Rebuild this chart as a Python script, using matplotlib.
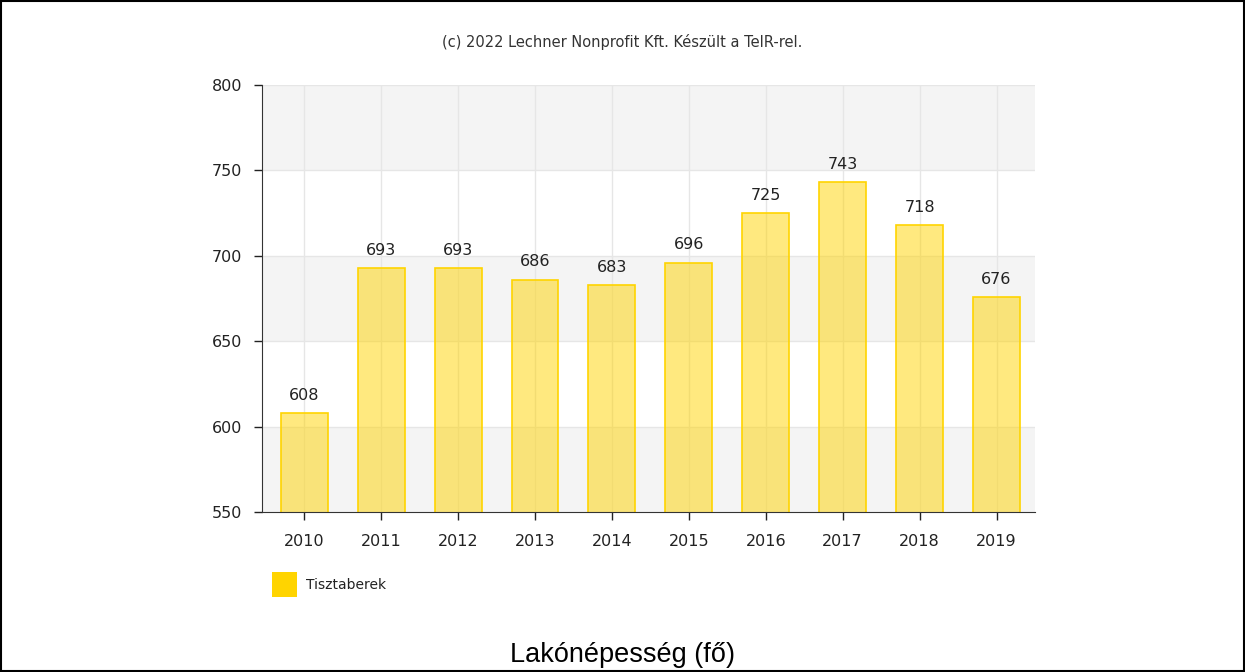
import numpy as np
import matplotlib.pyplot as plt
import matplotlib.patches as mpatches

evek = ['2010', '2011', '2012', '2013', '2014', '2015', '2016', '2017', '2018', '2019']
nepesseg = [608, 693, 693, 686, 683, 696, 725, 743, 718, 676]
y_tickek = [550, 600, 650, 700, 750, 800]
sorozat_nev = 'Tisztaberek'

fig = plt.figure(figsize=(12.45, 6.72), dpi=100)
ax = fig.add_axes([0.2104, 0.2381, 0.6209, 0.6354])

x = np.arange(len(evek))
ax.set_xlim(-0.55, 9.5)
ax.set_ylim(550, 800)

# váltakozó sávok
for i in range(len(y_tickek) - 1):
	if i % 2 == 0:
		ax.axhspan(y_tickek[i], y_tickek[i + 1], color='#f4f4f4', zorder=0, lw=0)
for y in y_tickek[1:]:
	ax.axhline(y, color='#e6e6e6', lw=1, zorder=1)
for xi in x:
	ax.axvline(xi, color='#e6e6e6', lw=1, zorder=1)

ax.bar(x, nepesseg, width=0.61, color=(1.0, 0.83, 0.0, 0.5), edgecolor='#ffd400', lw=1.2, zorder=2)
for xi, v in zip(x, nepesseg):
	ax.text(xi, v + 6, str(v), ha='center', va='bottom', fontsize=11.5, color='#222222', zorder=3)

ax.set_xticks(x)
ax.set_xticklabels(evek)
ax.set_yticks(y_tickek)
ax.tick_params(axis='both', labelsize=11.5, colors='#222222', length=6, width=1)
ax.tick_params(axis='x', pad=10)
ax.tick_params(axis='y', pad=8)
for s in ['top', 'right']:
	ax.spines[s].set_visible(False)
ax.spines['left'].set_color('#333333')
ax.spines['bottom'].set_color('#333333')

fig.text(0.5, 0.937, '(c) 2022 Lechner Nonprofit Kft. Készült a TeIR-rel.', ha='center', va='center',
	fontsize=10.5, color='#333333')

# jelmagyarázat
fig.patches.append(mpatches.Rectangle((272 / 1245, 1 - 597 / 672), 25 / 1245, 25 / 672,
	transform=fig.transFigure, facecolor='#ffd400', edgecolor='none'))
fig.text(306 / 1245, 1 - 585 / 672, sorozat_nev, ha='left', va='center', fontsize=10, color='#222222')

fig.text(0.5, 1 - 655 / 672, 'Lakónépesség (fő)', ha='center', va='center', fontsize=19.5,
	family='Liberation Sans', color='#000000')

fig.patches.append(mpatches.Rectangle((0.0008, 0.0015), 0.9984, 0.997, transform=fig.transFigure,
	fill=False, edgecolor='black', lw=1.5))

plt.savefig('out.png', dpi=100)
